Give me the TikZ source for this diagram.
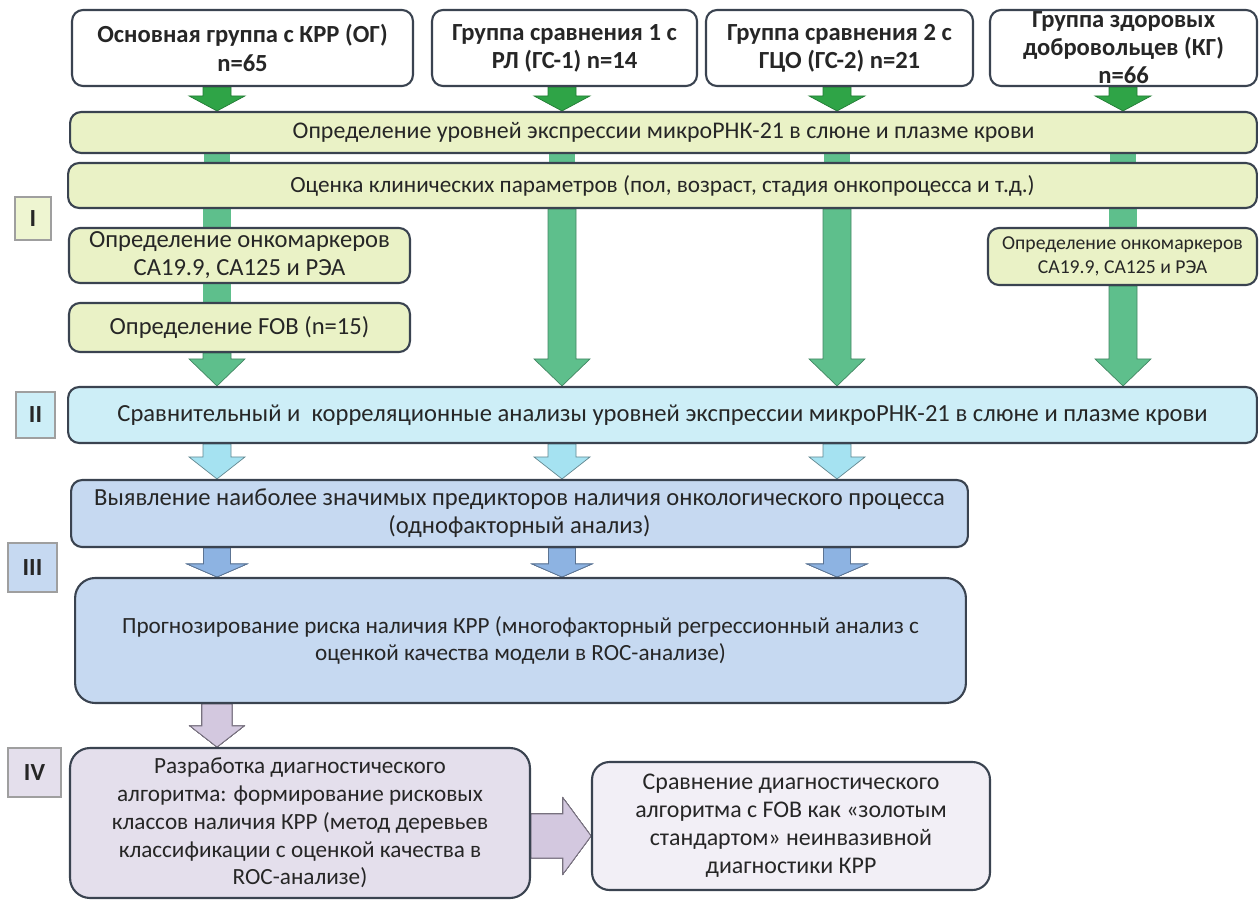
\documentclass[tikz,border=0pt]{standalone}
\usepackage{fontspec}
\setmainfont{Carlito}
\usetikzlibrary{calc,backgrounds}

\definecolor{edge}{HTML}{3A4350}
\definecolor{textc}{HTML}{262626}
\definecolor{limefill}{HTML}{EAF2C6}
\definecolor{cyanfill}{HTML}{CDEEF7}
\definecolor{bluefill}{HTML}{C6D9F1}
\definecolor{lilacfill}{HTML}{E4DFEC}
\definecolor{lilaclight}{HTML}{F2EFF6}
\definecolor{darkgreen}{HTML}{2FA447}
\definecolor{midgreen}{HTML}{5EBF8C}
\definecolor{cyanarrow}{HTML}{A5E2F1}
\definecolor{bluearrow}{HTML}{8DB3E2}
\definecolor{lilacarrow}{HTML}{D3C8DF}

\newcommand{\flowfont}{\fontsize{14}{16}\selectfont}
\newcommand{\midflow}{\fontsize{13.2}{15.8}\selectfont}
\newcommand{\smallflow}{\fontsize{11.2}{13.5}\selectfont}
% downward block arrow: style, start, end, shaft half width, head half width, head length
\newcommand{\blockdown}[6]{%
  \draw[#1] let \p1=(#2), \p2=(#3) in
    (\x1-#4,\y1) -- (\x1-#4,\y2+#6) -- (\x1-#5,\y2+#6) -- (\x1,\y2)
    -- (\x1+#5,\y2+#6) -- (\x1+#4,\y2+#6) -- (\x1+#4,\y1) -- cycle;}

\begin{document}
\begin{tikzpicture}[x=0.02cm, y=-0.02cm,
        grp/.style={draw=edge, line width=1.2pt, rounded corners=0.22cm, fill=white,
          align=center, inner sep=0pt, text=textc, font=\flowfont\bfseries},
        band/.style={draw=edge, line width=1.2pt, rounded corners=0.22cm,
          align=center, inner sep=0pt, text=textc, font=\flowfont},
        stage/.style={draw=gray!75, line width=0.9pt, inner sep=0pt, text=textc,
          font=\flowfont\bfseries},
        garr/.style={fill=darkgreen, draw=darkgreen!75!black, line width=0.4pt},
        marr/.style={fill=midgreen, draw=midgreen!70!black, line width=0.4pt},
        carr/.style={fill=cyanarrow, draw=cyanarrow!60!black, line width=0.4pt},
        barr/.style={fill=bluearrow, draw=bluearrow!65!black, line width=0.4pt},
        larr/.style={fill=lilacarrow, draw=lilacarrow!55!black, line width=0.4pt}
      ]
      \useasboundingbox (0,0) rectangle (1260,902);

      \coordinate (c1) at (217,0);
      \coordinate (c2) at (562,0);
      \coordinate (c3) at (837,0);
      \coordinate (c4) at (1123,0);
      \coordinate (r4) at (0,836);

      \node[grp, minimum width=6.82cm, minimum height=1.52cm] (og) at (242.5,48)
        {Основная группа с КРР (ОГ)\\n=65};
      \node[grp, minimum width=5.3cm, minimum height=1.52cm] (gs1) at (564.5,48)
        {Группа сравнения 1 с\\РЛ (ГС-1) n=14};
      \node[grp, minimum width=5.34cm, minimum height=1.52cm] (gs2) at (839.5,48)
        {Группа сравнения 2 с\\ГЦО (ГС-2) n=21};
      \node[grp, minimum width=5.34cm, minimum height=1.52cm] (kgbox) at (1123.5,48) {};
      \node[align=center, text=textc, font=\flowfont\bfseries] (kgtext) at (1123.5,48)
        {Группа здоровых\\добровольцев (КГ)\\n=66};

      \node[band, fill=limefill, minimum width=23.74cm, minimum height=0.82cm, font=\fontsize{13.6}{16}\selectfont] (b1) at (663.5,132.5)
        {Определение уровней экспрессии микроРНК-21 в слюне и плазме крови};
      \node[band, fill=limefill, minimum width=23.78cm, minimum height=0.9cm, font=\midflow] (b2) at (662.5,185.5)
        {Оценка клинических параметров (пол, возраст, стадия онкопроцесса и т.д.)};
      \node[band, fill=limefill, minimum width=6.82cm, minimum height=1.1cm] (onc1) at (239.5,255.5)
        {Определение онкомаркеров\\СА19.9, СА125 и РЭА};
      \node[band, fill=limefill, minimum width=6.82cm, minimum height=0.98cm] (fob) at (239.5,327.5)
        {Определение FOB (n=15)};
      \node[band, fill=limefill, minimum width=5.38cm, minimum height=1.14cm, font=\smallflow] (onc2) at (1122.5,256.5)
        {Определение онкомаркеров\\СА19.9, СА125 и РЭА};

      \node[band, fill=cyanfill, minimum width=23.78cm, minimum height=1.12cm] (an) at (662.5,415)
        {Сравнительный и\ \ корреляционные анализы уровней экспрессии микроРНК-21 в слюне и плазме крови};
      \node[band, fill=bluefill, minimum width=17.94cm, minimum height=1.34cm] (pred) at (519.5,513.5)
        {Выявление наиболее значимых предикторов наличия онкологического процесса\\(однофакторный анализ)};
      \node[band, fill=bluefill, rounded corners=0.4cm, minimum width=17.82cm, minimum height=2.5cm, font=\midflow] (prog) at (520.5,640.5)
        {Прогнозирование риска наличия КРР (многофакторный регрессионный анализ с\\оценкой качества модели в ROC-анализе)};
      \node[band, fill=lilacfill, rounded corners=0.4cm, minimum width=9.2cm, minimum height=3.0cm, font=\midflow] (alg) at (300,823)
        {Разработка диагностического\\алгоритма: формирование рисковых\\классов наличия КРР (метод деревьев\\классификации с оценкой качества в\\ROC-анализе)};
      \node[band, fill=lilaclight, rounded corners=0.35cm, minimum width=7.96cm, minimum height=2.56cm, font=\fontsize{13.6}{16}\selectfont] (cmp) at (791,826)
        {Сравнение диагностического\\алгоритма с FOB как «золотым\\стандартом» неинвазивной\\диагностики КРР};

      \node[stage, fill=limefill!80, minimum width=0.72cm, minimum height=0.86cm] (s1) at (33,218.5) {I};
      \node[stage, fill=cyanfill, minimum width=0.78cm, minimum height=0.92cm] (s2) at (35.5,415) {II};
      \node[stage, fill=bluefill, minimum width=0.98cm, minimum height=0.98cm] (s3) at (32.5,567.5) {III};
      \node[stage, fill=lilacfill, minimum width=1.06cm, minimum height=0.98cm] (s4) at (34.5,772.5) {IV};

      \begin{scope}[on background layer]
        \foreach \g/\c in {og/c1, gs1/c2, gs2/c3, kgbox/c4}
          \blockdown{garr}{\c |- \g.south}{\c |- b1.north}{0.28cm}{0.56cm}{0.3cm}
        \foreach \c in {c1, c2, c3, c4}
          \fill[midgreen] ($(\c |- b1.south)+(-13,0)$) rectangle ($(\c |- b2.north)+(13,0)$);
        \fill[midgreen] ($(c1 |- b2.south)+(-14,0)$) rectangle ($(c1 |- onc1.north)+(14,0)$);
        \fill[midgreen] ($(c1 |- onc1.south)+(-14,0)$) rectangle ($(c1 |- fob.north)+(14,0)$);
        \fill[midgreen] ($(c4 |- b2.south)+(-14,0)$) rectangle ($(c4 |- onc2.north)+(14,0)$);
        \blockdown{marr}{c1 |- fob.south}{c1 |- an.north}{0.28cm}{0.56cm}{0.54cm}
        \blockdown{marr}{c2 |- b2.south}{c2 |- an.north}{0.28cm}{0.56cm}{0.54cm}
        \blockdown{marr}{c3 |- b2.south}{c3 |- an.north}{0.28cm}{0.56cm}{0.54cm}
        \blockdown{marr}{c4 |- onc2.south}{c4 |- an.north}{0.28cm}{0.56cm}{0.54cm}
        \foreach \c in {c1, c2, c3}
          \blockdown{carr}{\c |- an.south}{\c |- pred.north}{0.28cm}{0.56cm}{0.44cm}
        \foreach \c in {c1, c2, c3}
          \blockdown{barr}{\c |- pred.south}{\c |- prog.north}{0.27cm}{0.6cm}{0.26cm}
        \blockdown{larr}{c1 |- prog.south}{c1 |- alg.north}{0.3cm}{0.54cm}{0.42cm}
        \draw[larr] let \p1=(alg.east |- r4), \p2=(cmp.west |- r4) in
          (\x1,\y1+0.44cm) -- (\x2-0.56cm,\y1+0.44cm) -- (\x2-0.56cm,\y1+0.76cm) -- (\x2,\y1)
          -- (\x2-0.56cm,\y1-0.76cm) -- (\x2-0.56cm,\y1-0.44cm) -- (\x1,\y1-0.44cm) -- cycle;
      \end{scope}
    \end{tikzpicture}
\end{document}
